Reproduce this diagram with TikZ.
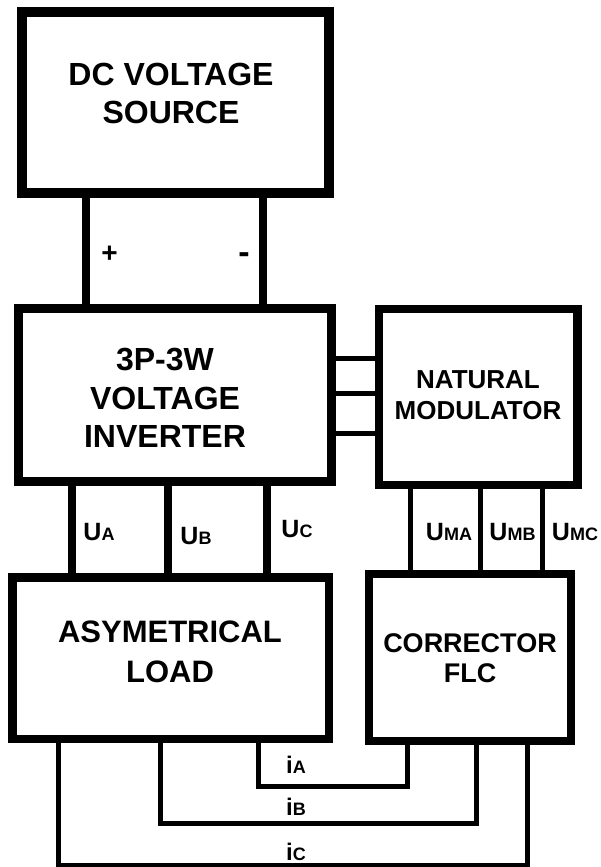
\documentclass[tikz,border=0pt]{standalone}
\usepackage{fontspec}
\setmainfont{Liberation Sans}
\newcommand\smallsub[1]{{\fontsize{18}{18}\selectfont #1}}
\begin{document}
\begin{tikzpicture}[x=1pt,y=-1pt,
  box/.style={draw, rectangle, inner sep=0pt, outer sep=0pt},
  title/.style={align=center, inner sep=0pt},
  lbl/.style={inner sep=0pt, font=\fontsize{25}{25}\selectfont\bfseries},
  ilbl/.style={inner sep=0pt, font=\fontsize{24}{24}\selectfont\bfseries},
  sign/.style={inner sep=0pt, font=\fontsize{28}{28}\selectfont\bfseries},
  thickwire/.style={line width=8pt},
  thinwire/.style={line width=5pt}]
\useasboundingbox (0,0) rectangle (600,867);

% blocks
\node[box, line width=10pt, minimum width=307pt, minimum height=181pt] (dc) at (175.5,102.5) {};
\node[box, line width=9pt, minimum width=312.5pt, minimum height=172.5pt] (inv) at (174.75,394.75) {};
\node[box, line width=8.5pt, minimum width=198.5pt, minimum height=176pt] (mod) at (478.25,397) {};
\node[box, line width=8.5pt, minimum width=316.5pt, minimum height=161.5pt] (load) at (170.75,658.25) {};
\node[box, line width=8pt, minimum width=202pt, minimum height=167pt] (cor) at (470,657.5) {};

% block texts
\node[title, font=\fontsize{32}{38}\selectfont\bfseries] (dct) at (171,93.5) {DC VOLTAGE\\SOURCE};
\node[title, font=\fontsize{32}{38.5}\selectfont\bfseries] (invt) at (165,398) {3P-3W\\VOLTAGE\\INVERTER};
\node[title, font=\fontsize{26}{31.5}\selectfont\bfseries] (modt) at (478,395) {NATURAL\\MODULATOR};
\node[title, font=\fontsize{31}{40}\selectfont\bfseries] (loadt) at (170,651.5) {ASYMETRICAL\\LOAD};
\node[title, font=\fontsize{27}{30}\selectfont\bfseries] (cort) at (470,658) {CORRECTOR\\FLC};

% helper positions
\coordinate (xp) at (86,0);
\coordinate (xm) at (262.5,0);
\coordinate (y1) at (0,358.5);
\coordinate (y2) at (0,393.5);
\coordinate (y3) at (0,433.5);
\coordinate (xa) at (72,0);
\coordinate (xb) at (168,0);
\coordinate (xc) at (267,0);
\coordinate (xma) at (410.5,0);
\coordinate (xmb) at (480.5,0);
\coordinate (xmc) at (542.5,0);
\coordinate (ia1) at (258.5,786.5);
\coordinate (ia2) at (407.5,786.5);
\coordinate (ib1) at (160,823);
\coordinate (ib2) at (476.5,823);
\coordinate (ic1) at (58.5,865.5);
\coordinate (ic2) at (527.5,865.5);

% DC source to inverter
\draw[thickwire] (dc.south -| xp) -- (inv.north -| xp);
\draw[thickwire] (dc.south -| xm) -- (inv.north -| xm);
\node[sign] (plus) at (109.5,254.5) {+};
\node[sign, font=\fontsize{34}{34}\selectfont\bfseries] (minus) at (244,258) {-};

% inverter to modulator
\draw[thinwire] (inv.east |- y1) -- (mod.west |- y1);
\draw[thinwire] (inv.east |- y2) -- (mod.west |- y2);
\draw[thinwire] (inv.east |- y3) -- (mod.west |- y3);

% inverter to load
\draw[thickwire] (inv.south -| xa) -- (load.north -| xa);
\draw[thickwire] (inv.south -| xb) -- (load.north -| xb);
\draw[thickwire] (inv.south -| xc) -- (load.north -| xc);
\node[lbl] (ua) at (99,532.5) {U\smallsub{A}};
\node[lbl] (ub) at (196,536) {U\smallsub{B}};
\node[lbl] (uc) at (297,529) {U\smallsub{C}};

% modulator to corrector
\draw[thinwire] (mod.south -| xma) -- (cor.north -| xma);
\draw[thinwire] (mod.south -| xmb) -- (cor.north -| xmb);
\draw[thinwire] (mod.south -| xmc) -- (cor.north -| xmc);
\node[lbl] (uma) at (449,532) {U\smallsub{MA}};
\node[lbl] (umb) at (512.5,532) {U\smallsub{MB}};
\node[lbl] (umc) at (575,532) {U\smallsub{MC}};

% load currents to corrector
\draw[thinwire] (load.south -| ia1) -- (ia1) -- (ia2) -- (cor.south -| ia2);
\draw[thinwire] (load.south -| ib1) -- (ib1) -- (ib2) -- (cor.south -| ib2);
\draw[thinwire] (load.south -| ic1) -- (ic1) -- (ic2) -- (cor.south -| ic2);
\node[ilbl] (ia) at (296,765) {i\smallsub{A}};
\node[ilbl] (ib) at (296,807) {i\smallsub{B}};
\node[ilbl] (ic) at (296,851.5) {i\smallsub{C}};
\end{tikzpicture}
\end{document}
